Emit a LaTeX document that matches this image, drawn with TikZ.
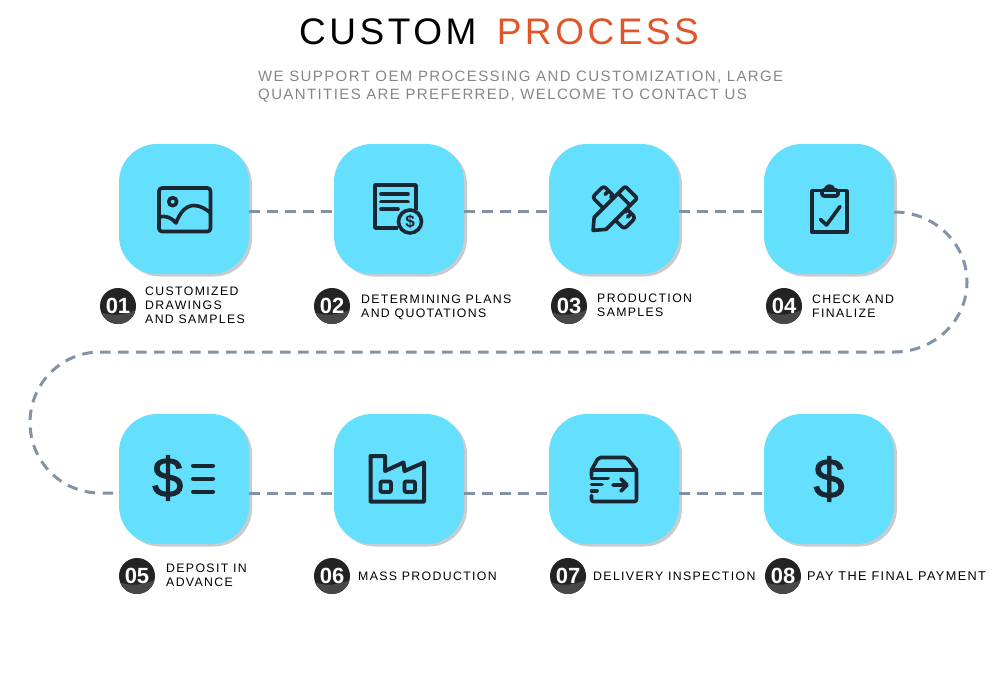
\documentclass[tikz,border=0pt]{standalone}
\usepackage{xcolor}
\usepackage{fontspec}
\usepackage{tikz}
\usetikzlibrary{
  positioning,
  shadows,
  calc
}
\setmainfont{Liberation Sans}
\newfontfamily\headface[LetterSpace=9.5]{Liberation Sans}
\newfontfamily\subface[LetterSpace=9.3]{Liberation Sans}
\newfontfamily\labelface[LetterSpace=11]{Liberation Sans}
\newfontfamily\dollarface[FakeBold=1.6]{Liberation Sans}
\definecolor{ccTile}{HTML}{64DFFE}
\definecolor{ccShadow}{HTML}{C8CCCF}
\definecolor{ccLink}{HTML}{8392A5}
\definecolor{ccIcon}{HTML}{1A2731}
\definecolor{ccOrange}{HTML}{E25527}
\definecolor{ccGrey}{HTML}{868686}
\definecolor{ccBadge}{HTML}{232323}
\definecolor{ccBadgeLow}{HTML}{47484A}
\tikzset{
  tile/.style={
    rectangle, fill=ccTile, rounded corners=38pt, minimum size=130pt, inner sep=0pt, outer sep=0pt,
    copy shadow={shadow xshift=3pt, shadow yshift=-2.5pt, fill=ccShadow, draw=none}
  },
  badge/.style={
    circle, fill=ccBadge, minimum size=36pt, inner sep=0pt, outer sep=0pt, text=white,
    font=\fontsize{22}{22}\selectfont\bfseries,
    path picture={
      \fill[ccBadgeLow] ([yshift=12pt]path picture bounding box.south west)
        to[out=-20, in=200] ([yshift=14pt]path picture bounding box.south east)
        |- (path picture bounding box.south west) -- cycle;
    }
  },
  steplabel/.style={
    inner sep=0pt, align=left, text=black,
    font=\labelface\fontsize{12.3}{13.8}\selectfont
  },
  headtext/.style={inner sep=0pt, font=\headface\fontsize{37}{37}\selectfont},
  subtext/.style={inner sep=0pt, align=left, text=ccGrey, font=\subface\fontsize{15}{18}\selectfont},
  link/.style={line width=3pt, ccLink, dash pattern=on 10.5pt off 7.5pt},
  iconline/.style={line width=3.6pt, ccIcon, line join=round, line cap=round},
  iconfill/.style={iconline, fill=ccTile},
  bigdollar/.style={inner sep=0pt, text=ccIcon, font=\dollarface\fontsize{56}{56}\selectfont}
}
\begin{document}
\begin{tikzpicture}[x=1pt, y=-1pt]
  \useasboundingbox (0,0) rectangle (1000,676);

  \node[headtext, anchor=west] (hd1) at (299,32) {CUSTOM};
  \node[headtext, text=ccOrange, right=20pt of hd1] (hd2) {PROCESS};
  \node[subtext, anchor=north west] (sub) at (258,70.5)
    {WE SUPPORT OEM PROCESSING AND CUSTOMIZATION, LARGE\\QUANTITIES ARE PREFERRED, WELCOME TO CONTACT US};

  \node[tile] (t1) at (184,209) {};
  \node[tile, right=85pt of t1] (t2) {};
  \node[tile, right=85pt of t2] (t3) {};
  \node[tile, right=85pt of t3] (t4) {};
  \node[tile, below=140pt of t1] (t5) {};
  \node[tile, right=85pt of t5] (t6) {};
  \node[tile, right=85pt of t6] (t7) {};
  \node[tile, right=85pt of t7] (t8) {};

  \foreach \a/\b in {t1/t2, t2/t3, t3/t4}
    \draw[link] ([yshift=-3pt]\a.east) -- ([yshift=-3pt]\b.west);
  \foreach \a/\b in {t5/t6, t6/t7, t7/t8}
    \draw[link] ([yshift=-14pt]\a.east) -- ([yshift=-14pt]\b.west);
  \draw[link] ([yshift=-3pt]t4.east) arc[start angle=90, end angle=-90, x radius=73pt, y radius=70pt]
    -- ++(-794,0) arc[start angle=90, end angle=270, x radius=70pt, y radius=70.5pt]
    -- ([yshift=-14pt]t5.west);

  \node[badge, below=14pt of t1.south west, xshift=-1pt] (b1) {01};
  \node[badge, below=14pt of t2.south west, xshift=-2pt] (b2) {02};
  \node[badge, below=14pt of t3.south west, xshift=20pt] (b3) {03};
  \node[badge, below=14pt of t4.south west, xshift=20pt] (b4) {04};
  \node[badge, below=14pt of t5.south west, xshift=18pt] (b5) {05};
  \node[badge, below=14pt of t6.south west, xshift=-2pt] (b6) {06};
  \node[badge, below=14pt of t7.south west, xshift=19pt] (b7) {07};
  \node[badge, below=14pt of t8.south west, xshift=19pt] (b8) {08};

  \node[steplabel, right=9pt of b1, yshift=1pt] (l1) {CUSTOMIZED\\DRAWINGS\\AND SAMPLES};
  \node[steplabel, right=11pt of b2, yshift=-1pt] (l2) {DETERMINING PLANS\\AND QUOTATIONS};
  \node[steplabel, right=10pt of b3, yshift=1pt] (l3) {PRODUCTION\\SAMPLES};
  \node[steplabel, right=10pt of b4] (l4) {CHECK AND\\FINALIZE};
  \node[steplabel, right=11pt of b5, yshift=1pt] (l5) {DEPOSIT IN\\ADVANCE};
  \node[steplabel, right=8pt of b6] (l6) {MASS PRODUCTION};
  \node[steplabel, right=7pt of b7] (l7) {DELIVERY INSPECTION};
  \node[steplabel, right=6pt of b8, font=\labelface\fontsize{12.7}{13.8}\selectfont] (l8) {PAY THE FINAL PAYMENT};

  \draw[iconline, rounded corners=3pt] (159,188) rectangle (210.5,231.5);
  \draw[iconline] (172.7,201.7) circle[radius=4pt];
  \draw[iconline] (159,217) .. controls (166,215) and (172,218) .. (176,223)
    .. controls (180,212) and (186,205.5) .. (194,205.5) .. controls (200,205.5) and (206,209) .. (210.5,213);

  \draw[iconline, line cap=butt] (416,210) -- (416,185) -- (375,185) -- (375,228) -- (398,228);
  \draw[iconline] (381,194) -- (408,194) (381,201.7) -- (408,201.7) (381,209.3) -- (398,209.3);
  \draw[iconline] (410,221.5) circle[radius=11.5pt];
  \node[inner sep=0pt, text=ccIcon, font=\fontsize{17}{17}\selectfont\bfseries] (dollar2) at (410,221.5) {\$};

  \begin{scope}[shift={(615,208.5)}, rotate=45]
    \draw[iconline, rounded corners=3pt] (-8,-24) rectangle (8,21);
    \draw[iconline] (8,-17) -- (3,-17) (8,-11) -- (5,-11) (8,15) -- (3,15) (8,10) -- (5,10);
    \draw[iconfill] (-31,0) -- (-21,8.5) -- (18,8.5) [rounded corners=2pt] -- (23,8.5) -- (23,-8.5) [sharp corners] -- (-21,-8.5) -- cycle;
    \draw[iconline] (13,-8.5) -- (13,8.5);
  \end{scope}

  \draw[iconline, line cap=butt] (822,190.7) -- (812,190.7) -- (812,232.3) -- (847,232.3) -- (847,190.7) -- (837,190.7);
  \draw[iconline, rounded corners=2pt] (822,190) rectangle (838,196);
  \draw[iconline] (825.5,190) arc[start angle=180, end angle=0, radius=4pt];
  \draw[iconline] (820.5,219.5) -- (826.5,225) -- (840,206.5);

  \node[bigdollar] (dollar5) at (167.7,478) {\$};
  \draw[iconline, line width=4pt] (193,465.7) -- (213,465.7) (193,478.5) -- (213,478.5) (193,491.5) -- (213,491.5);

  \draw[iconline, line width=4pt] (370.5,456) -- (385,456) -- (385,471) -- (403.5,462.5) -- (404.5,471) -- (424,462.5) -- (424,501.5) -- (370.5,501.5) -- cycle;
  \draw[iconline, rounded corners=1pt] (380.5,481.5) rectangle (391,492);
  \draw[iconline, rounded corners=1pt] (404.5,481.5) rectangle (415,492);

  \draw[iconline, rounded corners=2pt] (591.5,476) -- (591.5,470) -- (598.5,457.5) -- (626.5,457.5) -- (636.5,470) -- (636.5,501.5) -- (591.5,501.5) -- (591.5,495.5);
  \draw[iconline] (591.5,470) -- (636.5,470);
  \draw[iconline] (591.5,478.3) -- (608,478.3) (591.5,484.6) -- (602,484.6) (591.5,491) -- (597,491);
  \draw[iconline] (613,485) -- (626.5,485) (621,479) -- (627,485) -- (621,491);

  \node[bigdollar] (dollar8) at (829,479) {\$};
\end{tikzpicture}
\end{document}
